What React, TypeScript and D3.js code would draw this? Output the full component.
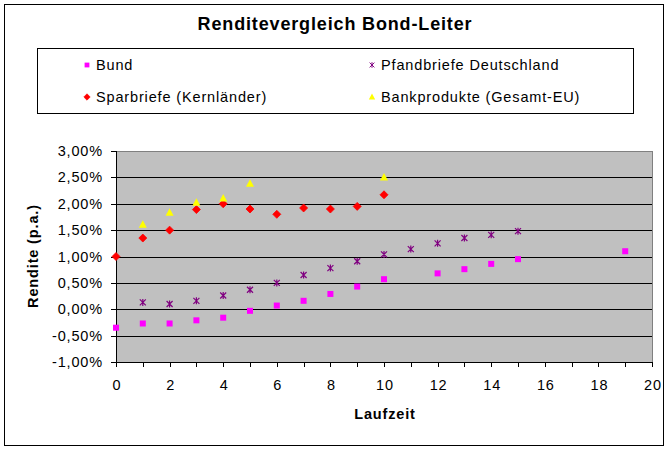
import React from "react";
import * as d3 from "d3";

const W = 669;
const H = 450;

const bundX = [0, 1, 2, 3, 4, 5, 6, 7, 8, 9, 10, 12, 13, 14, 15, 19];
const bundY = [-0.35, -0.27, -0.27, -0.21, -0.16, -0.03, 0.07, 0.16, 0.29, 0.43, 0.57, 0.68, 0.76, 0.86, 0.95, 1.1];

const pfandX = [1, 2, 3, 4, 5, 6, 7, 8, 9, 10, 11, 12, 13, 14, 15];
const pfandY = [0.13, 0.1, 0.16, 0.26, 0.37, 0.5, 0.65, 0.78, 0.91, 1.04, 1.14, 1.25, 1.35, 1.41, 1.48];

const sparX = [0, 1, 2, 3, 4, 5, 6, 7, 8, 9, 10];
const sparY = [1.0, 1.35, 1.5, 1.89, 2.0, 1.9, 1.8, 1.92, 1.9, 1.95, 2.17];

const bankX = [1, 2, 3, 4, 5, 10];
const bankY = [1.6, 1.83, 2.02, 2.1, 2.38, 2.5];

const yTicks = [-1, -0.5, 0, 0.5, 1, 1.5, 2, 2.5, 3];
const xTicks = [0, 2, 4, 6, 8, 10, 12, 14, 16, 18, 20];
const xMinor = d3.range(0, 21, 1);

const seriesNames = ["Bund", "Pfandbriefe Deutschland", "Sparbriefe (Kernländer)", "Bankprodukte (Gesamt-EU)"];
const title = "Renditevergleich Bond-Leiter";
const xTitle = "Laufzeit";
const yTitle = "Rendite (p.a.)";

const FONT = "'Liberation Sans', Arial, sans-serif";
const LS = 0.85;

const fmtPct = (v: number) => v.toFixed(2).replace(".", ",") + "%";

function Marker({ type, x, y }: { type: string; x: number; y: number }) {
  if (type === "square") {
    return <rect x={x - 3} y={y - 3} width={6} height={6} fill="#FF00FF" />;
  }
  if (type === "diamond") {
    return <path d={`M${x},${y - 4}L${x + 4},${y}L${x},${y + 4}L${x - 4},${y}Z`} fill="#FF0000" stroke="#FF0000" strokeWidth={0.8} strokeLinejoin="round" />;
  }
  if (type === "triangle") {
    return <path d={`M${x},${y - 4.5}L${x + 4},${y + 3}L${x - 4},${y + 3}Z`} fill="#FFFF00" />;
  }
  // star: X with vertical line
  return (
    <path
      d={`M${x - 3},${y - 3}L${x + 3},${y + 3}M${x + 3},${y - 3}L${x - 3},${y + 3}M${x},${y - 3.5}L${x},${y + 3.5}`}
      stroke="#800080"
      strokeWidth={1.2}
      fill="none"
    />
  );
}

export default function App() {
  const left = 116, right = 652, top = 151, bottom = 362;
  const x = d3.scaleLinear().domain([0, 20]).range([left, right]);
  const y = d3.scaleLinear().domain([-1, 3]).range([bottom, top]);

  const series = [
    { xs: bundX, ys: bundY, type: "square" },
    { xs: pfandX, ys: pfandY, type: "star" },
    { xs: sparX, ys: sparY, type: "diamond" },
    { xs: bankX, ys: bankY, type: "triangle" },
  ];

  const legendItems = [
    { name: seriesNames[0], type: "square", mx: 87, ty: 65 },
    { name: seriesNames[1], type: "star", mx: 372, ty: 65 },
    { name: seriesNames[2], type: "diamond", mx: 87, ty: 97 },
    { name: seriesNames[3], type: "triangle", mx: 372, ty: 97 },
  ];

  return (
    <svg width={W} height={H} style={{ position: "absolute", left: 0, top: 0 }} fontFamily={FONT}>
      <rect x={0} y={0} width={W} height={H} fill="#fff" />
      <rect x={4.5} y={4.5} width={659} height={441} fill="#fff" stroke="#000" strokeWidth={1} />
      <text x={335} y={30} textAnchor="middle" fontSize={18} fontWeight="bold" letterSpacing={LS}>{title}</text>

      {/* legend */}
      <rect x={37.5} y={48.5} width={596} height={65} fill="#fff" stroke="#000" strokeWidth={1} />
      {legendItems.map((d, i) => (
        <g key={i}>
          <g transform={`translate(${d.mx},${d.ty}) scale(0.8) translate(${-d.mx},${-d.ty})`}>
            <Marker type={d.type} x={d.mx} y={d.ty} />
          </g>
          <text x={d.mx + 9} y={d.ty + 5} fontSize={14.5} letterSpacing={LS}>{d.name}</text>
        </g>
      ))}

      {/* plot area */}
      <rect x={left} y={top} width={right - left} height={bottom - top} fill="#C0C0C0" />
      {yTicks.filter(t => t > -1 && t < 3).map(t => (
        <line key={t} x1={left} x2={right} y1={Math.round(y(t)) + 0.5} y2={Math.round(y(t)) + 0.5} stroke="#000" />
      ))}
      <line x1={left} x2={right} y1={top + 0.5} y2={top + 0.5} stroke="#808080" />
      <line x1={right + 0.5} x2={right + 0.5} y1={top} y2={bottom} stroke="#808080" />
      <line x1={left + 0.5} x2={left + 0.5} y1={top} y2={bottom + 1} stroke="#000" />
      <line x1={left} x2={right + 1} y1={bottom + 0.5} y2={bottom + 0.5} stroke="#000" />

      {yTicks.map(t => (
        <g key={t}>
          <line x1={left - 5} x2={left} y1={Math.round(y(t)) + 0.5} y2={Math.round(y(t)) + 0.5} stroke="#000" />
          <text x={103} y={y(t) + 5} textAnchor="end" fontSize={14.5} letterSpacing={LS}>{fmtPct(t)}</text>
        </g>
      ))}
      {xMinor.map(t => (
        <line key={t} x1={Math.round(x(t)) + 0.5} x2={Math.round(x(t)) + 0.5} y1={bottom} y2={bottom + 5} stroke="#000" />
      ))}
      {xTicks.map(t => (
        <text key={t} x={x(t) + 1} y={390} textAnchor="middle" fontSize={14.5} letterSpacing={LS}>{t}</text>
      ))}
      <text x={385} y={419} textAnchor="middle" fontSize={14.5} fontWeight="bold" letterSpacing={LS}>{xTitle}</text>
      <text transform={`translate(38,256) rotate(-90)`} textAnchor="middle" fontSize={14.5} fontWeight="bold" letterSpacing={LS}>{yTitle}</text>

      {series.map((s, si) => (
        <g key={si}>
          {s.xs.map((xv, i) => (
            <Marker key={i} type={s.type} x={x(xv)} y={y(s.ys[i])} />
          ))}
        </g>
      ))}
    </svg>
  );
}
